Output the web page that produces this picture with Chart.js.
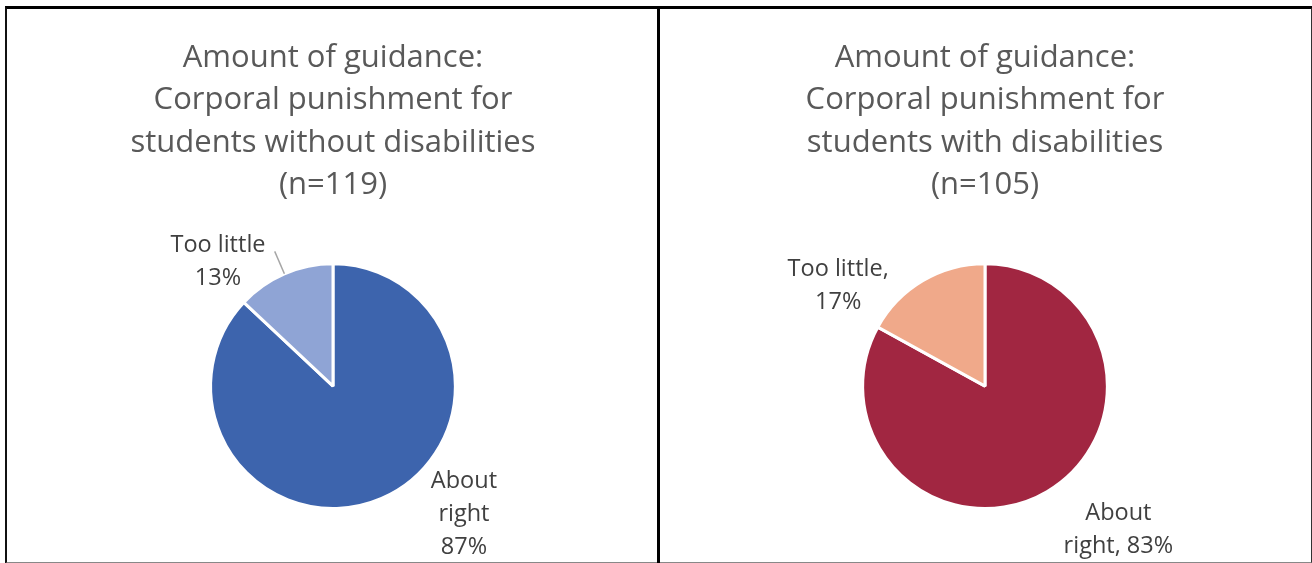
<!DOCTYPE html>
<html>
<head>
<meta charset="utf-8">
<script src="https://cdn.jsdelivr.net/npm/chart.js@4.4.0/dist/chart.umd.min.js"></script>
<style>
  body { margin: 0; background: #fff; }
  #wrap { position: relative; width: 1312px; height: 563px; overflow: hidden; background: #fff; }
  #frame { position: absolute; left: 5px; top: 6px; width: 1304px; height: 553px;
           border-left: 2px solid #111; border-top: 3px solid #000;
           border-right: 2px solid #333; border-bottom: 2px solid #888; }
  #divider { position: absolute; left: 657px; top: 6px; width: 3px; height: 557px; background: #000; }
  .panel { position: absolute; top: 9px; width: 650px; height: 552px; }
</style>
</head>
<body>
<div id="wrap">
  <div id="frame"></div>
  <div id="divider"></div>
  <div class="panel" style="left:8px"><canvas id="chartLeft"></canvas></div>
  <div class="panel" style="left:660px"><canvas id="chartRight"></canvas></div>
</div>
<script>
// data
var categories = ['About right', 'Too little'];
var withoutDisabilities = [87, 13];
var withDisabilities = [83, 17];
var titleLeft = ['Amount of guidance:', 'Corporal punishment for', 'students without disabilities', '(n=119)'];
var titleRight = ['Amount of guidance:', 'Corporal punishment for', 'students with disabilities', '(n=105)'];

var blueColors = ['#3D64AD', '#8FA4D5'];
var redColors = ['#A12641', '#F0A98A'];
var fontFamily = "'Open Sans', sans-serif";

// how each label is wrapped into lines
function wrapLabel(mode, cat, val) {
    var words = cat.split(' ');
    if (mode == 'stack') return words.concat([val + '%']);
    if (mode == 'two') return [cat, val + '%'];
    if (mode == 'twoComma') return [cat + ',', val + '%'];
    if (mode == 'lastComma') return [words[0], words[1] + ', ' + val + '%'];
    return [cat + ' ' + val + '%'];
}

// draws the slice labels (and optional leader lines) next to each arc
var sliceLabels = {
    id: 'sliceLabels',
    afterDatasetsDraw: function(chart, args, opts) {
        var ctx = chart.ctx;
        var meta = chart.getDatasetMeta(0);
        var values = chart.data.datasets[0].data;
        ctx.save();
        ctx.font = opts.size + 'px ' + fontFamily;
        ctx.fillStyle = '#404040';
        ctx.textAlign = 'center';
        ctx.textBaseline = 'middle';
        meta.data.forEach(function(arc, i) {
            var it = opts.items[i];
            var r = arc.outerRadius;
            var lines = wrapLabel(it.wrap, chart.data.labels[i], values[i]);
            var cx = arc.x + it.dx * r;
            var cy = arc.y + it.dy * r;
            var top = cy - (lines.length - 1) * opts.lineH / 2;
            lines.forEach(function(t, k) {
                ctx.fillText(t, cx, top + k * opts.lineH);
            });
            if (it.leader) {
                var mid = (arc.startAngle + arc.endAngle) / 2;
                ctx.strokeStyle = '#A6A6A6';
                ctx.lineWidth = 1.5;
                ctx.beginPath();
                ctx.moveTo(arc.x + Math.cos(mid) * r * 1.0, arc.y + Math.sin(mid) * r * 1.0);
                ctx.lineTo(arc.x + Math.cos(mid) * r * 1.2, arc.y + Math.sin(mid) * r * 1.2);
                ctx.stroke();
            }
        });
        ctx.restore();
    }
};

function makePie(el, values, colors, title, items) {
    return new Chart(document.getElementById(el), {
        type: 'pie',
        data: {
            labels: categories,
            datasets: [{
                data: values,
                backgroundColor: colors,
                borderColor: '#ffffff',
                borderWidth: 3
            }]
        },
        options: {
            responsive: true,
            maintainAspectRatio: false,
            animation: false,
            layout: { padding: { top: 0, bottom: 51, left: 0, right: 0 } },
            plugins: {
                legend: { display: false },
                tooltip: { enabled: false },
                title: {
                    display: true,
                    text: title,
                    color: '#595959',
                    font: { family: fontFamily, size: 31, weight: 'normal', lineHeight: 1.365 },
                    padding: { top: 28, bottom: 56 }
                },
                sliceLabels: { size: 23.5, lineH: 33, items: items }
            }
        },
        plugins: [sliceLabels]
    });
}

makePie('chartLeft', withoutDisabilities, blueColors, titleLeft, [
    { wrap: 'stack', dx: 1.07, dy: 1.045 },
    { wrap: 'two', dx: -0.94, dy: -1.02, leader: true }
]);
makePie('chartRight', withDisabilities, redColors, titleRight, [
    { wrap: 'lastComma', dx: 1.09, dy: 1.175 },
    { wrap: 'twoComma', dx: -1.2, dy: -0.82 }
]);
</script>
</body>
</html>
